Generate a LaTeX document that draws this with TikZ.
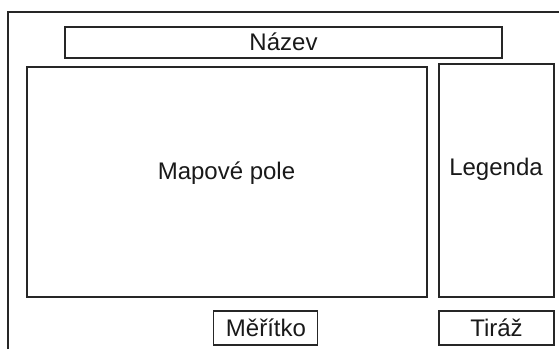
\documentclass[tikz,border=0pt]{standalone}
\usepackage{fontspec}
\setmainfont{Liberation Sans}
\begin{document}
\begin{tikzpicture}[x=1pt,y=-1pt,
  frame/.style={draw=black!85,line width=1.3pt,fill=none},
  lbl/.style={inner sep=0pt,anchor=base,font=\fontsize{24}{27}\selectfont,text=black!90}]
\useasboundingbox (0,0) rectangle (559,349);
\fill[white] (0,0) rectangle (559,349);
\coordinate (ob) at (8,349);
\coordinate (oc) at (8,12);
\coordinate (or) at (559,12);
\draw[frame] (ob) -- (oc) -- (or);
\node[frame,inner sep=0pt,minimum width=437pt,minimum height=31pt] (nazev) at (283.5,42.5) {};
\node[frame,inner sep=0pt,minimum width=400pt,minimum height=230pt] (mapa) at (227,182) {};
\node[frame,inner sep=0pt,minimum width=115pt,minimum height=233pt] (legenda) at (496.5,180.5) {};
\node[frame,inner sep=0pt,minimum width=104pt,minimum height=34pt] (meritko) at (265.5,328) {};
\node[frame,inner sep=0pt,minimum width=115pt,minimum height=34pt] (tiraz) at (496.5,328) {};
\node[lbl] (tnazev) at (283.5,50.5) {Název};
\node[lbl] (tmapa) at (226.5,179.5) {Mapové pole};
\node[lbl] (tlegenda) at (496,175.5) {Legenda};
\node[lbl] (tmeritko) at (266,336.5) {Měřítko};
\node[lbl] (ttiraz) at (496.5,336.5) {Tiráž};
\end{tikzpicture}
\end{document}
